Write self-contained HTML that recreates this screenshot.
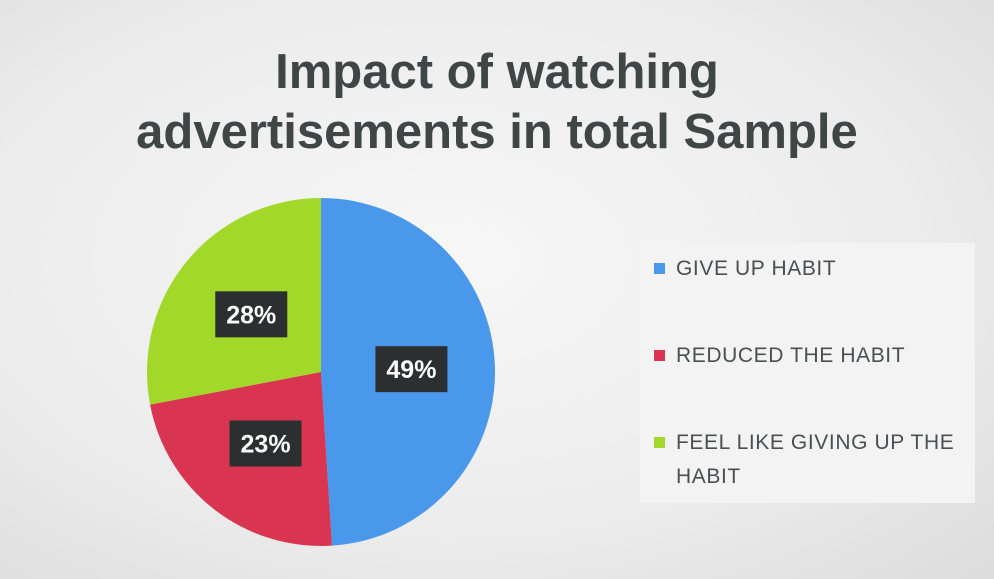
<!DOCTYPE html>
<html><head><meta charset="utf-8"><style>
body{margin:0;width:994px;height:579px;overflow:hidden;background:radial-gradient(ellipse at 45% 45%,#f7f7f7 0%,#ececec 60%,#dcdcdc 100%);font-family:"Liberation Sans",sans-serif;}
#title{position:absolute;left:0;width:994px;top:42px;text-align:center;font-size:49px;font-weight:bold;color:#404545;line-height:60px;}
#legend{position:absolute;left:640px;top:243px;width:335px;height:260px;background:#f3f3f3;}
.li{position:absolute;left:14px;font-size:21px;color:#4a5050;line-height:34px;letter-spacing:0.6px;}
.sw{display:inline-block;width:11px;height:11px;margin-right:11px;vertical-align:1px;}
</style></head><body>
<div id="title">Impact of watching<br>advertisements in total Sample</div>
<svg id="pie" width="994" height="579" style="position:absolute;left:0;top:0"></svg>
<div id="legend">
<div class="li" style="top:9px"><span class="sw" style="background:#4a98ec"></span>GIVE UP HABIT</div>
<div class="li" style="top:96px"><span class="sw" style="background:#d93550"></span>REDUCED THE HABIT</div>
<div class="li" style="top:183px"><span class="sw" style="background:#a2d82a"></span>FEEL LIKE GIVING UP THE<br><span style="margin-left:22px">HABIT</span></div>
</div>
<script>
const categories=["GIVE UP HABIT","REDUCED THE HABIT","FEEL LIKE GIVING UP THE HABIT"];
const values=[49,23,28];
const labels=["49%","23%","28%"];
const colors=["#4a98ec","#d93550","#a2d82a"];
const cx=321,cy=372,r=174;
const svg=document.getElementById('pie');
const NS="http://www.w3.org/2000/svg";
const total=values.reduce((a,b)=>a+b,0);
function pt(a,rr){return [cx+rr*Math.sin(a),cy-rr*Math.cos(a)];}
let acc=0;
values.forEach((v,i)=>{
  const a0=acc/total*2*Math.PI; acc+=v; const a1=acc/total*2*Math.PI;
  const p0=pt(a0,r),p1=pt(a1,r);
  const path=document.createElementNS(NS,'path');
  path.setAttribute('d',`M${cx},${cy}L${p0[0]},${p0[1]}A${r},${r} 0 ${a1-a0>Math.PI?1:0} 1 ${p1[0]},${p1[1]}Z`);
  path.setAttribute('fill',colors[i]);
  
  
  svg.appendChild(path);
});
acc=0;
values.forEach((v,i)=>{
  const a0=acc/total*2*Math.PI; acc+=v; const a1=acc/total*2*Math.PI;
  const m=pt((a0+a1)/2,r*0.52);
  const g=document.createElementNS(NS,'g');
  
  
  const rect=document.createElementNS(NS,'rect');
  rect.setAttribute('x',m[0]-36);rect.setAttribute('y',m[1]-23);
  rect.setAttribute('width',72);rect.setAttribute('height',46);
  rect.setAttribute('fill','#2b2f30');
  const t=document.createElementNS(NS,'text');
  t.setAttribute('x',m[0]);t.setAttribute('y',m[1]+9);
  t.setAttribute('text-anchor','middle');t.setAttribute('fill','#fff');
  t.setAttribute('font-size','25');t.setAttribute('font-weight','bold');
  t.setAttribute('font-family','Liberation Sans, sans-serif');
  t.textContent=labels[i];
  g.appendChild(rect);g.appendChild(t);svg.appendChild(g);
});
</script>
</body></html>
